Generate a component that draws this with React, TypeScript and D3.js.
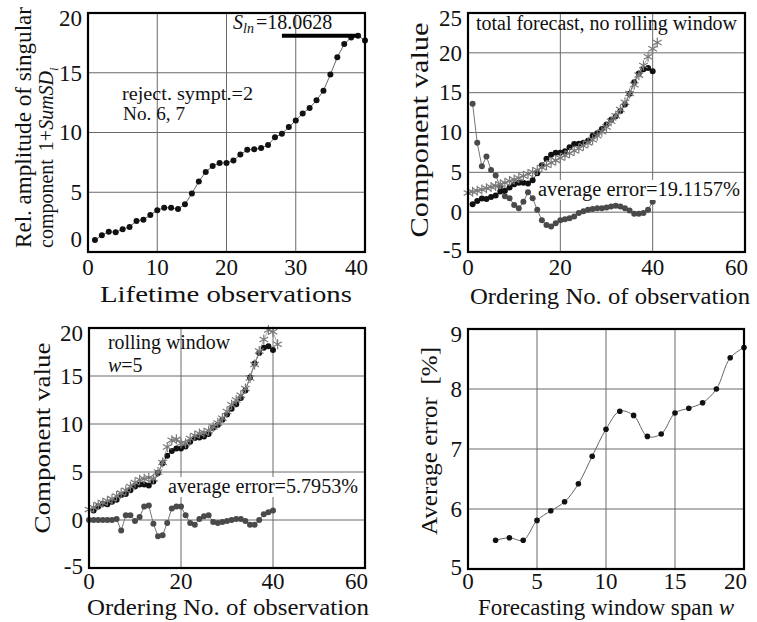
import React, { useEffect, useRef } from "react";
import * as d3 from "d3";

// top-left: rel. amplitude of the singular component, observations 1..40
const obsIndex = d3.range(1, 41);
const amplitude = [1.0, 1.4, 1.7, 1.65, 1.9, 2.1, 2.6, 2.7, 3.1, 3.5, 3.7, 3.7, 3.6, 4.0, 4.9, 5.9, 6.7, 7.2, 7.45, 7.45,
  7.65, 8.15, 8.55, 8.6, 8.7, 8.95, 9.6, 9.9, 10.45, 11.0, 11.6, 12.05, 12.7, 13.5, 14.85, 16.3, 17.4, 17.95, 18.1, 17.7];
const slnValue = 18.1;
const slnFrom = 28;
const slnTo = 39;

// top-right: total forecast without rolling window (stars) and its error
const forecastIndex = d3.range(0, 42);
const totalForecast = [2.4, 2.55, 2.7, 2.85, 3.0, 3.15, 3.3, 3.5, 3.7, 3.9, 4.1, 4.3, 4.55, 4.8, 5.05, 5.3, 5.6, 5.9, 6.2, 6.5,
  6.8, 7.1, 7.4, 7.7, 8.0, 8.35, 8.7, 9.1, 9.6, 10.1, 10.7, 11.4, 12.1, 12.9, 13.8, 14.9, 16.0, 17.2, 18.4, 19.5, 20.5, 21.3];
const totalError = [13.6, 8.7, 5.75, 7.0, 5.3, 4.6, 3.2, 2.0, 1.75, 0.9, 0.5, 1.3, 2.5, 1.75, 0.3, -1.0, -1.6, -1.8, -1.4, -1.0,
  -0.9, -0.75, -0.55, -0.1, 0.1, 0.3, 0.4, 0.5, 0.5, 0.6, 0.7, 0.8, 0.7, 0.5, 0.2, -0.2, -0.2, -0.1, 0.3, 1.3];

// bottom-left: rolling window w=5
const rollingForecast = [1.1, 1.3, 1.6, 1.8, 2.0, 2.2, 2.5, 2.8, 3.1, 3.5, 3.9, 4.2, 4.3, 4.4, 4.3, 5.0, 6.0, 7.6, 8.3, 8.4,
  8.0, 8.0, 8.5, 8.8, 9.0, 9.1, 9.3, 9.7, 10.1, 10.6, 11.3, 12.0, 12.5, 13.0, 13.7, 14.8, 16.2, 17.6, 18.8, 19.8, 19.6, 18.3];
const rollingErrorIndex = d3.range(0, 41);
const rollingError = [0, 0, 0, 0, 0, 0, 0.1, -1.1, 0.5, 0.5, -0.1, 0.3, 1.4, 1.5, -0.4, -1.7, -1.6, -0.3, 1.2, 1.4,
  1.4, 0.5, -0.3, -0.5, 0.1, 0.4, 0.5, -0.2, -0.3, -0.2, -0.1, 0, 0.1, 0.1, -0.1, -0.5, -0.5, 0, 0.6, 0.8, 1.0];

// bottom-right: average error vs forecasting window span
const windowSpan = [2, 3, 4, 5, 6, 7, 8, 9, 10, 11, 12, 13, 14, 15, 16, 17, 18, 19, 20];
const averageError = [5.48, 5.52, 5.48, 5.81, 5.97, 6.12, 6.42, 6.88, 7.33, 7.63, 7.56, 7.21, 7.25, 7.6, 7.68, 7.77, 8.0, 8.52, 8.69];

const FONT = "'Liberation Serif', 'DejaVu Serif', serif";

type PanelOpts = {
  left: number; right: number; top: number; bottom: number;
  xDomain: [number, number]; yDomain: [number, number];
  xTicks: number[]; yTicks: number[];
  xLabelY: number; lift?: number;
};

function panel(svg: any, o: PanelOpts) {
  const x = d3.scaleLinear().domain(o.xDomain).range([o.left, o.right]);
  const y = d3.scaleLinear().domain(o.yDomain).range([o.bottom, o.top]);
  const g = svg.append("g");

  // grid lines (inner ticks only)
  g.append("g").selectAll("line")
    .data(o.xTicks.filter(t => t > o.xDomain[0] && t < o.xDomain[1])).join("line")
    .attr("x1", (d: number) => x(d)).attr("x2", (d: number) => x(d))
    .attr("y1", o.top).attr("y2", o.bottom)
    .attr("stroke", "#6a6a6a").attr("stroke-width", 1);
  g.append("g").selectAll("line")
    .data(o.yTicks.filter(t => t > o.yDomain[0] && t < o.yDomain[1])).join("line")
    .attr("y1", (d: number) => y(d)).attr("y2", (d: number) => y(d))
    .attr("x1", o.left).attr("x2", o.right)
    .attr("stroke", "#6a6a6a").attr("stroke-width", 1);

  const plot = g.append("g");

  g.append("rect")
    .attr("x", o.left).attr("y", o.top)
    .attr("width", o.right - o.left).attr("height", o.bottom - o.top)
    .attr("fill", "none").attr("stroke", "#000").attr("stroke-width", 2.2);

  const fs = 23;
  g.append("g").selectAll("text").data(o.yTicks).join("text")
    .attr("x", o.left - 6)
    .attr("y", (d: number) => Math.max(o.top + 5, Math.min(o.bottom - (o.lift ?? 2), y(d))) + fs * 0.34)
    .attr("text-anchor", "end")
    .attr("font-size", fs)
    .text((d: number) => String(d));
  const last = o.xTicks.length - 1;
  g.append("g").selectAll("text").data(o.xTicks).join("text")
    .attr("x", (d: number, i: number) => (i === last ? o.right + 3 : x(d)))
    .attr("y", o.xLabelY)
    .attr("text-anchor", (d: number, i: number) => (i === last ? "end" : "middle"))
    .attr("font-size", fs)
    .text((d: number) => String(d));

  return { x, y, plot };
}

function dots(plot: any, xs: number[], ys: number[], x: any, y: any, color: string, r: number, lineColor: string) {
  const line = d3.line<number>().x((d, i) => x(xs[i])).y(d => y(d));
  plot.append("path").attr("d", line(ys)).attr("fill", "none")
    .attr("stroke", lineColor).attr("stroke-width", 1);
  plot.append("g").selectAll("circle").data(ys).join("circle")
    .attr("cx", (d: number, i: number) => x(xs[i])).attr("cy", (d: number) => y(d))
    .attr("r", r).attr("fill", color);
}

function stars(plot: any, xs: number[], ys: number[], x: any, y: any) {
  const line = d3.line<number>().x((d, i) => x(xs[i])).y(d => y(d));
  plot.append("path").attr("d", line(ys)).attr("fill", "none")
    .attr("stroke", "#999").attr("stroke-width", 0.8);
  const sym = d3.symbol().type(d3.symbolAsterisk).size(70);
  plot.append("g").selectAll("path").data(ys).join("path")
    .attr("transform", (d: number, i: number) => `translate(${x(xs[i])},${y(d)})`)
    .attr("d", sym())
    .attr("fill", "none").attr("stroke", "#7a7a7a").attr("stroke-width", 1.2);
}

// plain text stretched to the width it has in the reference
function label(svg: any, text: string, x: number, y: number, size: number, len: number, anchor = "start") {
  return svg.append("text").attr("x", x).attr("y", y)
    .attr("text-anchor", anchor).attr("font-size", size)
    .attr("textLength", len).attr("lengthAdjust", "spacingAndGlyphs")
    .text(text);
}

function yTitle(svg: any, text: string, bx: number, cy: number, size: number, len: number, anchor = "middle") {
  return svg.append("text")
    .attr("transform", `translate(${bx},${cy}) rotate(-90)`)
    .attr("text-anchor", anchor).attr("font-size", size)
    .attr("textLength", len).attr("lengthAdjust", "spacingAndGlyphs")
    .style("white-space", "pre")
    .text(text);
}

function draw(node: SVGSVGElement) {
  const svg = d3.select(node);
  svg.selectAll("*").remove();
  svg.style("font-family", FONT).attr("fill", "#111");
  svg.append("rect").attr("width", 757).attr("height", 622).attr("fill", "#fff");

  // ---- panel 1 ----
  const p1 = panel(svg, {
    left: 88, right: 365, top: 13, bottom: 252,
    xDomain: [0, 40], yDomain: [0, 20],
    xTicks: [0, 10, 20, 30, 40], yTicks: [0, 5, 10, 15, 20],
    xLabelY: 275, lift: 13,
  });
  dots(p1.plot, obsIndex, amplitude, p1.x, p1.y, "#111", 3, "#666");
  p1.plot.append("line")
    .attr("x1", p1.x(slnFrom)).attr("x2", p1.x(slnTo))
    .attr("y1", p1.y(slnValue)).attr("y2", p1.y(slnValue))
    .attr("stroke", "#000").attr("stroke-width", 4);
  const sl = svg.append("text").attr("x", 233).attr("y", 29).attr("font-size", 20);
  sl.append("tspan").attr("font-style", "italic").text("S");
  sl.append("tspan").attr("font-style", "italic").attr("font-size", 14).attr("dy", 4).text("ln");
  sl.append("tspan").attr("dy", -4).attr("dx", 2).text("=18.0628");
  label(svg, "reject. sympt.=2", 122, 100, 18, 131);
  label(svg, "No. 6, 7", 123, 120, 18, 62);
  label(svg, "Lifetime observations", 226, 302, 23, 252, "middle");
  yTitle(svg, "Rel. amplitude of singular", 31, 248, 23, 241, "start");
  const c2 = svg.append("text")
    .attr("transform", "translate(53,248) rotate(-90)").attr("font-size", 20);
  c2.append("tspan").text("component");
  c2.append("tspan").attr("dx", 8).text("1+");
  c2.append("tspan").attr("font-style", "italic").text("SumSD");
  c2.append("tspan").attr("font-style", "italic").attr("font-size", 13).attr("dy", 5).text("i");

  // ---- panel 2 ----
  const p2 = panel(svg, {
    left: 468, right: 745, top: 13, bottom: 252,
    xDomain: [0, 60], yDomain: [-5, 25],
    xTicks: [0, 20, 40, 60], yTicks: [-5, 0, 5, 10, 15, 20, 25],
    xLabelY: 275,
  });
  dots(p2.plot, obsIndex, totalError, p2.x, p2.y, "#4a4a4a", 3, "#777");
  dots(p2.plot, obsIndex, amplitude, p2.x, p2.y, "#111", 3, "#444");
  stars(p2.plot, forecastIndex, totalForecast, p2.x, p2.y);
  label(svg, "total forecast, no rolling window", 476, 30, 20, 261);
  svg.append("rect").attr("x", 536).attr("y", 180).attr("width", 205).attr("height", 20).attr("fill", "#fff");
  label(svg, "average error=19.1157%", 538, 196, 20, 202);
  label(svg, "Ordering No. of observation", 610, 304, 23, 280, "middle");
  yTitle(svg, "Component value", 428, 130, 25, 215);

  // ---- panel 3 ----
  const p3 = panel(svg, {
    left: 89, right: 365, top: 328, bottom: 568,
    xDomain: [0, 60], yDomain: [-5, 20],
    xTicks: [0, 20, 40, 60], yTicks: [-5, 0, 5, 10, 15, 20],
    xLabelY: 589,
  });
  dots(p3.plot, rollingErrorIndex, rollingError, p3.x, p3.y, "#4a4a4a", 3, "#777");
  dots(p3.plot, obsIndex, amplitude, p3.x, p3.y, "#111", 3, "#444");
  stars(p3.plot, forecastIndex, rollingForecast, p3.x, p3.y);
  label(svg, "rolling window", 108, 349, 20, 122);
  const w5 = svg.append("text").attr("x", 108).attr("y", 372).attr("font-size", 20);
  w5.append("tspan").attr("font-style", "italic").text("w");
  w5.append("tspan").text("=5");
  svg.append("rect").attr("x", 166).attr("y", 477).attr("width", 195).attr("height", 20).attr("fill", "#fff");
  label(svg, "average error=5.7953%", 168, 493, 20, 190);
  label(svg, "Ordering No. of observation", 228, 615, 23, 282, "middle");
  yTitle(svg, "Component value", 50, 438, 24, 191);

  // ---- panel 4 ----
  const p4 = panel(svg, {
    left: 468, right: 744, top: 329, bottom: 569,
    xDomain: [0, 20], yDomain: [5, 9],
    xTicks: [0, 5, 10, 15, 20], yTicks: [5, 6, 7, 8, 9],
    xLabelY: 589,
  });
  const curve = d3.line<number>().x((d, i) => p4.x(windowSpan[i])).y(d => p4.y(d)).curve(d3.curveCatmullRom);
  p4.plot.append("path").attr("d", curve(averageError)).attr("fill", "none").attr("stroke", "#666").attr("stroke-width", 1);
  p4.plot.append("g").selectAll("circle").data(averageError).join("circle")
    .attr("cx", (d: number, i: number) => p4.x(windowSpan[i])).attr("cy", (d: number) => p4.y(d))
    .attr("r", 2.8).attr("fill", "#111");
  const ft = svg.append("text").attr("x", 606).attr("y", 615).attr("text-anchor", "middle").attr("font-size", 23);
  ft.append("tspan").text("Forecasting window span ");
  ft.append("tspan").attr("font-style", "italic").text("w");
  yTitle(svg, "Average error  [%]", 437, 441, 23, 188);
}

export default function App() {
  const ref = useRef<SVGSVGElement>(null);
  useEffect(() => {
    if (ref.current) draw(ref.current);
  }, []);
  return (
    <div style={{ position: "absolute", left: 0, top: 0 }}>
      <svg ref={ref} width={757} height={622} />
    </div>
  );
}
